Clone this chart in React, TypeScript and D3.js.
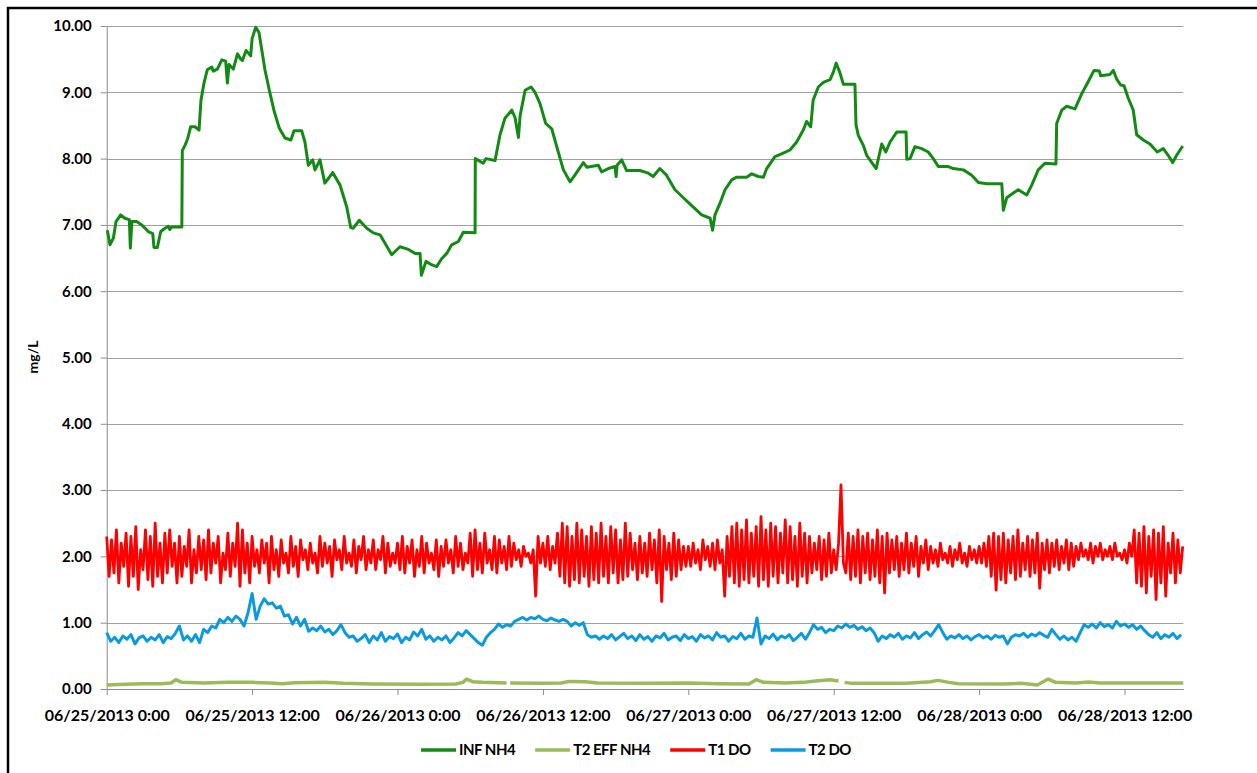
import * as d3 from 'd3';
import { useEffect, useRef } from 'react';

type Pt = { t: Date; v: number | null };

// time axis (hours after 06/25/2013 0:00)
const startDate = new Date(2013, 5, 25, 0, 0);
const endHours = 88.85;
const tickHours = [0, 12, 24, 36, 48, 60, 72, 84];
const yTicks = [0, 1, 2, 3, 4, 5, 6, 7, 8, 9, 10];

const seriesNames = ['INF NH4', 'T2 EFF NH4', 'T1 DO', 'T2 DO'];
const seriesColors = ['#138a13', '#9bbb59', '#ff0000', '#0b9bdc'];

// INF NH4, traced point by point
const infHours = [
  0.05, 0.27, 0.55, 0.77, 1.15, 1.5, 1.87, 1.95, 2.08, 2.47, 2.89, 3.43, 3.8, 3.9, 4.18, 4.46, 4.81, 5.09,
  5.2, 5.35, 6.2, 6.24, 6.46, 6.68, 6.93, 7.29, 7.62, 7.78, 8.03, 8.3, 8.67, 8.8, 9.13, 9.5, 9.82, 9.96,
  10.1, 10.45, 10.79, 11.06, 11.2, 11.5, 11.88, 12.0, 12.3, 12.57, 12.87, 13.06, 13.42, 13.8, 14.24,
  14.71, 15.2, 15.46, 16.09, 16.36, 16.64, 17.0, 17.19, 17.6, 18.0, 18.3, 18.65, 19.26, 19.81, 20.14,
  20.35, 20.85, 21.46, 22.0, 22.56, 23.52, 24.2, 24.9, 25.45, 25.86, 25.97, 26.35, 26.8, 27.23, 27.64,
  28.06, 28.47, 29.02, 29.43, 30.4, 30.42, 31.08, 31.3, 32.05, 32.46, 32.87, 33.43, 33.7, 33.98, 34.12,
  34.53, 35.02, 35.35, 35.76, 36.23, 36.73, 37.14, 37.69, 38.24, 38.52, 38.93, 39.34, 39.62, 40.57,
  40.85, 41.4, 41.95, 42.04, 42.12, 42.5, 42.91, 44.0, 44.7, 45.1, 45.65, 46.2, 46.9, 47.59, 48.28, 49.1,
  49.8, 50.0, 50.2, 50.6, 51.03, 51.58, 51.99, 52.82, 53.23, 53.78, 54.2, 54.47, 55.15, 55.7, 56.39,
  56.94, 57.49, 57.76, 58.1, 58.3, 58.73, 59.14, 59.7, 59.96, 60.2, 60.5, 60.8, 61.75, 61.84, 62.03,
  62.44, 62.72, 63.5, 63.96, 64.3, 64.65, 65.2, 65.97, 66.03, 66.3, 66.7, 67.26, 67.8, 68.22, 68.63,
  69.46, 69.87, 70.7, 71.39, 71.94, 72.63, 73.87, 74.0, 74.28, 74.82, 75.23, 75.93, 76.34, 76.88, 77.43,
  78.34, 78.4, 78.82, 79.23, 79.91, 80.47, 81.0, 81.48, 81.92, 82.03, 82.8, 83.07, 83.35, 83.68, 83.96,
  84.31, 84.72, 85.0, 85.55, 86.1, 86.7, 87.2, 87.6, 87.98, 88.3, 88.8,
];
const infValues = [
  6.92, 6.7, 6.8, 7.05, 7.15, 7.1, 7.08, 6.65, 7.05, 7.05, 7.0, 6.9, 6.87, 6.66, 6.66, 6.9, 6.95, 6.98,
  6.93, 6.97, 6.97, 8.12, 8.2, 8.3, 8.48, 8.48, 8.43, 8.88, 9.14, 9.34, 9.38, 9.32, 9.35, 9.49, 9.47, 9.14,
  9.42, 9.35, 9.58, 9.5, 9.48, 9.63, 9.55, 9.81, 9.98, 9.9, 9.56, 9.34, 9.03, 8.73, 8.46,
  8.31, 8.28, 8.42, 8.42, 8.25, 7.9, 7.98, 7.83, 7.98, 7.63, 7.7, 7.79, 7.6, 7.27, 6.96,
  6.95, 7.07, 6.95, 6.88, 6.85, 6.55, 6.67, 6.63, 6.57, 6.57, 6.24, 6.45, 6.4, 6.37, 6.49,
  6.57, 6.7, 6.75, 6.89, 6.88, 8.0, 7.93, 8.0, 7.97, 8.36, 8.61, 8.73, 8.62, 8.32, 8.65,
  9.03, 9.08, 9.0, 8.83, 8.53, 8.45, 8.18, 7.83, 7.65, 7.72, 7.83, 7.94, 7.87, 7.9,
  7.8, 7.85, 7.88, 7.73, 7.9, 7.98, 7.82, 7.82, 7.78, 7.73, 7.85, 7.75, 7.53, 7.41, 7.29, 7.15,
  7.1, 6.92, 7.15, 7.32, 7.53, 7.68, 7.72, 7.72, 7.77, 7.73, 7.72, 7.85, 8.03, 8.07, 8.13,
  8.25, 8.43, 8.56, 8.48, 8.88, 9.08, 9.15, 9.19, 9.3, 9.44, 9.3, 9.12, 9.12, 8.51, 8.35,
  8.2, 8.05, 7.85, 8.22, 8.1, 8.25, 8.4, 8.4, 7.99, 8.0, 8.18, 8.15, 8.1, 8.0, 7.88,
  7.88, 7.85, 7.83, 7.75, 7.64, 7.62, 7.62, 7.22, 7.41, 7.48, 7.53, 7.45, 7.6, 7.83, 7.93,
  7.92, 8.53, 8.73, 8.79, 8.75, 8.98, 9.16, 9.33, 9.32, 9.25, 9.27, 9.33, 9.2, 9.11, 9.1,
  8.91, 8.73, 8.36, 8.28, 8.22, 8.1, 8.15, 8.05, 7.94, 8.05, 8.19,
];

// T2 EFF NH4 (null = missing reading)
const effHours = [
  0, 1.5, 3, 4.5, 5.3, 5.7, 6.2, 8, 10, 12, 13.5, 14.5, 15.5, 18, 19.5, 22, 26, 28.8, 29.4, 29.7, 30.2, 31,
  33, 33.15, 33.3, 36, 37.5, 38.2, 39.5, 40.5, 44, 48, 50.5, 53, 53.6, 54.2, 56, 57.5, 58.5, 59.7, 60.4,
  60.65, 60.9, 61.5, 66, 68, 68.6, 69.5, 70.3, 74, 75.5, 76.8, 77.7, 78.3, 80, 81, 82, 88.85,
];
const effValues = [
  0.06, 0.07, 0.08, 0.08, 0.09, 0.14, 0.1, 0.09, 0.1, 0.1, 0.09, 0.08, 0.095, 0.1, 0.085, 0.075, 0.07, 0.075,
  0.1, 0.15, 0.11, 0.1, 0.09, null, 0.09, 0.085, 0.09, 0.115, 0.11, 0.09, 0.085, 0.09, 0.08, 0.075, 0.14,
  0.1, 0.09, 0.1, 0.12, 0.14, 0.12, null, 0.1, 0.085, 0.085, 0.11, 0.13, 0.1, 0.08, 0.075, 0.085, 0.06,
  0.15, 0.1, 0.09, 0.105, 0.09, 0.09,
];

// T1 DO, one reading every 12 minutes
const t1StepMin = 12;
const t1Values = [
  2.3, 1.7, 2.25, 1.75, 2.4, 1.6, 2.2, 1.85, 2.35, 1.55,
  2.3, 1.7, 2.45, 1.5, 2.1, 1.8, 2.4, 1.65, 2.3, 1.55,
  2.5, 1.7, 2.2, 1.6, 2.35, 1.75, 2.4, 1.85, 2.2, 1.6,
  2.3, 1.7, 2.15, 1.85, 2.4, 1.6, 2.1, 1.75, 2.3, 1.8,
  2.25, 1.65, 2.4, 1.75, 2.2, 1.9, 2.3, 1.6, 2.05, 1.8,
  2.35, 1.7, 2.2, 1.85, 2.5, 1.55, 2.4, 1.75, 2.2, 1.6,
  2.3, 1.85, 2.1, 1.75, 2.25, 1.9, 2.2, 1.6, 2.3, 1.8,
  2.1, 1.7, 2.25, 1.9, 2.05, 1.75, 2.3, 1.85, 2.15, 1.7,
  2.25, 1.95, 2.1, 1.8, 2.2, 1.9, 2.05, 1.75, 2.3, 1.85,
  2.2, 1.9, 2.15, 1.7, 2.25, 1.95, 2.1, 1.8, 2.3, 1.9,
  2.05, 1.85, 2.25, 1.75, 2.15, 1.95, 2.3, 1.8, 2.1, 1.9,
  2.25, 1.8, 2.1, 1.95, 2.3, 1.75, 2.2, 1.85, 2.05, 1.9,
  2.2, 1.8, 2.3, 1.75, 2.15, 1.9, 2.25, 1.7, 2.1, 1.85,
  2.3, 1.75, 2.2, 1.9, 2.05, 1.8, 2.25, 1.7, 2.15, 1.85,
  2.25, 1.9, 2.1, 1.75, 2.3, 1.85, 2.2, 1.8, 2.05, 1.9,
  2.35, 1.7, 2.4, 1.8, 2.2, 1.75, 2.35, 1.9, 2.1, 1.8,
  2.3, 1.75, 2.25, 1.9, 2.15, 1.8, 2.3, 1.85, 2.2, 1.95,
  2.1, 1.85, 2.15, 2.0, 2.05, 1.9, 2.1, 1.4, 2.3, 1.9,
  2.2, 1.85, 2.3, 1.8, 2.15, 1.9, 2.35, 1.7, 2.5, 1.6,
  2.45, 1.55, 2.3, 1.65, 2.5, 1.6, 2.4, 1.7, 2.3, 1.55,
  2.45, 1.65, 2.35, 1.6, 2.5, 1.7, 2.3, 1.6, 2.45, 1.75,
  2.4, 1.6, 2.25, 1.65, 2.5, 1.7, 2.35, 1.8, 2.2, 1.65,
  2.3, 1.75, 2.2, 1.7, 2.35, 1.8, 2.25, 1.6, 2.4, 1.32,
  2.3, 1.8, 2.2, 1.65, 2.35, 1.7, 2.25, 1.8, 2.15, 1.85,
  2.15, 1.85, 2.2, 1.9, 2.1, 1.8, 2.25, 1.95, 2.15, 1.85,
  2.2, 1.8, 2.25, 1.9, 2.1, 1.4, 2.3, 1.7, 2.45, 1.6,
  2.5, 1.55, 2.4, 1.65, 2.55, 1.6, 2.35, 1.7, 2.45, 1.55,
  2.6, 1.65, 2.4, 1.55, 2.5, 1.7, 2.45, 1.6, 2.35, 1.75,
  2.55, 1.6, 2.45, 1.65, 2.3, 1.55, 2.5, 1.7, 2.35, 1.6,
  2.3, 1.75, 2.2, 1.8, 2.3, 1.65, 2.25, 1.7, 2.35, 1.75,
  2.1, 1.8, 2.2, 3.08, 1.9, 1.75, 2.35, 1.65, 2.3, 1.7,
  2.4, 1.6, 2.3, 1.75, 2.35, 1.65, 2.25, 1.7, 2.4, 1.6,
  2.3, 1.45, 2.35, 1.75, 2.25, 1.8, 2.3, 1.7, 2.2, 1.8,
  2.35, 1.75, 2.2, 1.85, 2.3, 1.7, 2.15, 1.9, 2.25, 1.8,
  2.15, 1.9, 2.1, 1.85, 2.2, 1.95, 2.05, 1.9, 2.15, 1.85,
  2.1, 1.95, 2.2, 1.9, 2.05, 1.85, 2.15, 1.95, 2.1, 1.9,
  2.15, 1.9, 2.2, 1.85, 2.3, 1.7, 2.35, 1.49, 2.3, 1.65,
  2.35, 1.6, 2.25, 1.75, 2.3, 1.65, 2.4, 1.7, 2.2, 1.8,
  2.3, 1.7, 2.25, 1.75, 2.35, 1.52, 2.2, 1.8, 2.25, 1.75,
  2.2, 1.85, 2.25, 1.8, 2.15, 1.9, 2.25, 1.8, 2.2, 1.85,
  2.15, 1.95, 2.2, 2.0, 2.1, 1.95, 2.2, 1.9, 2.15, 2.0,
  2.2, 1.95, 2.1, 2.0, 2.15, 1.95, 2.2, 2.0, 2.05, 1.95,
  2.1, 1.9, 2.2, 2.0, 2.4, 1.6, 2.35, 1.55, 2.45, 1.45,
  2.3, 1.7, 2.4, 1.35, 2.35, 1.6, 2.45, 1.4, 2.2, 1.75,
  2.35, 1.6, 2.25, 1.75, 2.15,
];

// T2 DO, one reading every 20 minutes
const t2StepMin = 20;
const t2Values = [
  0.85, 0.72, 0.78, 0.7, 0.8, 0.75, 0.82, 0.68, 0.77, 0.8, 0.72, 0.78, 0.74, 0.82, 0.7, 0.79, 0.76, 0.84,
  0.95, 0.74, 0.8, 0.72, 0.82, 0.7,
  0.9, 0.85, 0.95, 0.92,
  1.05, 1.0, 1.08, 1.02, 1.1, 1.05,
  0.95, 1.15, 1.44, 1.05, 1.25, 1.36,
  1.28, 1.3, 1.22, 1.25, 1.1, 1.12, 0.98, 1.08,
  0.95, 1.05, 0.87, 0.92, 0.88, 0.95,
  0.86, 0.9, 0.82, 0.88, 0.97, 0.85, 0.78, 0.8, 0.72,
  0.76, 0.82, 0.7, 0.8, 0.74, 0.85, 0.72, 0.79, 0.76, 0.83, 0.7, 0.78, 0.74, 0.86, 0.8,
  0.9, 0.75, 0.8, 0.72, 0.78, 0.74, 0.8, 0.7, 0.77, 0.85, 0.8, 0.88,
  0.82, 0.76, 0.7, 0.66, 0.78, 0.85, 0.9, 0.98, 0.93, 0.97, 0.95, 1.02, 1.05, 1.08, 1.04,
  1.08, 1.06, 1.1, 1.05, 1.03, 1.07, 1.04, 1.02, 1.05, 1.02, 0.95, 1.0, 0.96, 1.0, 0.82,
  0.78, 0.8, 0.75, 0.8, 0.76, 0.82, 0.74, 0.79, 0.84, 0.76, 0.8, 0.73,
  0.82, 0.75, 0.79, 0.72, 0.8, 0.77, 0.84, 0.74, 0.78, 0.8, 0.73, 0.82, 0.76, 0.79, 0.72,
  0.82, 0.77, 0.8, 0.74, 0.85, 0.78, 0.8, 0.72, 0.79, 0.76, 0.84, 0.75, 0.8, 0.78, 1.07,
  0.68, 0.8, 0.76, 0.83, 0.74, 0.8, 0.77, 0.82, 0.73, 0.78, 0.84, 0.75, 0.85, 0.97, 0.9,
  0.93, 0.85, 0.9,
  0.88, 0.95, 0.92, 0.98, 0.93, 0.96, 0.9, 0.94, 0.88, 0.92, 0.85, 0.72, 0.8, 0.76, 0.82,
  0.78, 0.84, 0.75, 0.8, 0.77, 0.85, 0.76, 0.82, 0.86, 0.8, 0.88, 0.97, 0.85, 0.75, 0.8,
  0.77, 0.82, 0.76, 0.8, 0.74, 0.79, 0.82, 0.77, 0.8, 0.75, 0.81, 0.78, 0.8, 0.68, 0.78,
  0.82, 0.8, 0.84, 0.78, 0.83, 0.8, 0.85, 0.81, 0.78, 0.9, 0.82, 0.75, 0.8, 0.74, 0.78,
  0.72, 0.85, 0.97, 0.93, 0.98, 0.92, 1.0, 0.94, 0.97, 0.92, 1.02, 0.95, 0.98, 0.93, 0.97,
  0.9, 0.95, 0.88, 0.82, 0.78, 0.85, 0.76, 0.82, 0.78, 0.84, 0.76, 0.82,
];

const hoursToDate = (h: number) => new Date(startDate.getTime() + h * 3600 * 1000);

const App = () => {
  const ref = useRef<SVGSVGElement>(null);

  useEffect(() => {
    const W = 1257;
    const H = 773;
    const margin = { left: 106.7, right: 1183.3, top: 26, bottom: 689 };
    const font = 'Lato, "Open Sans", sans-serif';

    const x = d3
      .scaleTime()
      .domain([startDate, hoursToDate(endHours)])
      .range([margin.left, margin.right]);
    const y = d3.scaleLinear().domain([0, 10]).range([margin.bottom, margin.top]);

    const svg = d3.select(ref.current);
    svg.selectAll('*').remove();
    svg.attr('width', W).attr('height', H);

    svg.append('rect').attr('width', W).attr('height', H).attr('fill', '#fff');

    // outer chart border (only the top and left edges fall inside the picture)
    svg
      .append('rect')
      .attr('x', 8)
      .attr('y', 8)
      .attr('width', W + 20)
      .attr('height', H + 20)
      .attr('fill', 'none')
      .attr('stroke', '#000')
      .attr('stroke-width', 2.5);

    //gridlines
    svg
      .append('g')
      .selectAll('line')
      .data(yTicks.filter((d) => d > 0))
      .join('line')
      .attr('x1', margin.left)
      .attr('x2', margin.right)
      .attr('y1', (d) => Math.round(y(d)) + 0.5)
      .attr('y2', (d) => Math.round(y(d)) + 0.5)
      .attr('stroke', '#a0a0a0')
      .attr('stroke-width', 1);

    //y axis
    svg
      .append('g')
      .attr('transform', `translate(${margin.left},0)`)
      .call(
        d3
          .axisLeft(y)
          .tickValues(yTicks)
          .tickSizeInner(6)
          .tickSizeOuter(0)
          .tickPadding(9)
          .tickFormat((d) => d3.format('.2f')(d as number)),
      )
      .call((g) => {
        g.select('.domain').attr('stroke', '#8c8c8c');
        g.selectAll('.tick line').attr('stroke', '#8c8c8c');
        g.selectAll('.tick text')
          .attr('fill', '#000')
          .style('font-family', font)
          .style('font-weight', 'bold')
          .style('font-size', '15px');
      });

    //x axis
    const tf = d3.timeFormat('%m/%d/%Y %-H:%M');
    svg
      .append('g')
      .attr('transform', `translate(0,${margin.bottom})`)
      .call(
        d3
          .axisBottom(x)
          .tickValues(tickHours.map(hoursToDate))
          .tickSizeInner(6)
          .tickSizeOuter(0)
          .tickPadding(15)
          .tickFormat((d) => tf(d as Date)),
      )
      .call((g) => {
        g.select('.domain').attr('stroke', '#8c8c8c');
        g.selectAll('.tick line').attr('stroke', '#8c8c8c');
        g.selectAll('.tick text')
          .attr('fill', '#000')
          .style('font-family', font)
          .style('font-weight', 'bold')
          .style('font-size', '16px');
      });

    //y axis title
    svg
      .append('text')
      .attr('transform', `translate(38,357) rotate(-90)`)
      .attr('text-anchor', 'middle')
      .style('font-family', font)
      .style('font-weight', 'bold')
      .style('font-size', '14px')
      .text('mg/L');

    //series
    const infData: Pt[] = infHours.map((h, i) => ({ t: hoursToDate(h), v: infValues[i] }));
    const effData: Pt[] = effHours.map((h, i) => ({ t: hoursToDate(h), v: effValues[i] }));
    const t1Data: Pt[] = t1Values.map((v, i) => ({ t: hoursToDate((i * t1StepMin) / 60), v }));
    const t2Data: Pt[] = t2Values.map((v, i) => ({ t: hoursToDate((i * t2StepMin) / 60), v }));

    const line = d3
      .line<Pt>()
      .defined((d) => d.v !== null)
      .x((d) => x(d.t))
      .y((d) => y(d.v as number));

    const all = [infData, effData, t1Data, t2Data];
    const widths = [3, 3.5, 2.8, 3];
    all.forEach((data, i) => {
      svg
        .append('path')
        .datum(data)
        .attr('fill', 'none')
        .attr('stroke', seriesColors[i])
        .attr('stroke-width', widths[i])
        .attr('stroke-linejoin', 'round')
        .attr('d', line);
    });

    //legend
    const legend = svg.append('g');
    const items = seriesNames.map((name, i) => {
      const g = legend.append('g');
      g.append('line')
        .attr('x1', 0)
        .attr('x2', 35)
        .attr('y1', 0)
        .attr('y2', 0)
        .attr('stroke', seriesColors[i])
        .attr('stroke-width', 3.5);
      const t = g
        .append('text')
        .attr('x', 38)
        .attr('dy', '0.36em')
        .style('font-family', font)
        .style('font-weight', 'bold')
        .style('font-size', '15px')
        .style('letter-spacing', '-0.5px')
        .text(name);
      const w = 38 + ((t.node() as SVGTextElement).getComputedTextLength() || 55);
      return { g, w };
    });
    const gap = 20;
    const total = d3.sum(items, (d) => d.w) + gap * (items.length - 1);
    let cx = 636 - total / 2;
    items.forEach((it) => {
      it.g.attr('transform', `translate(${cx},750)`);
      cx += it.w + gap;
    });
  }, []);

  return (
    <svg
      ref={ref}
      style={{ position: 'absolute', left: 0, top: 0, display: 'block' }}
      width={1257}
      height={773}
    />
  );
};

export default App;
